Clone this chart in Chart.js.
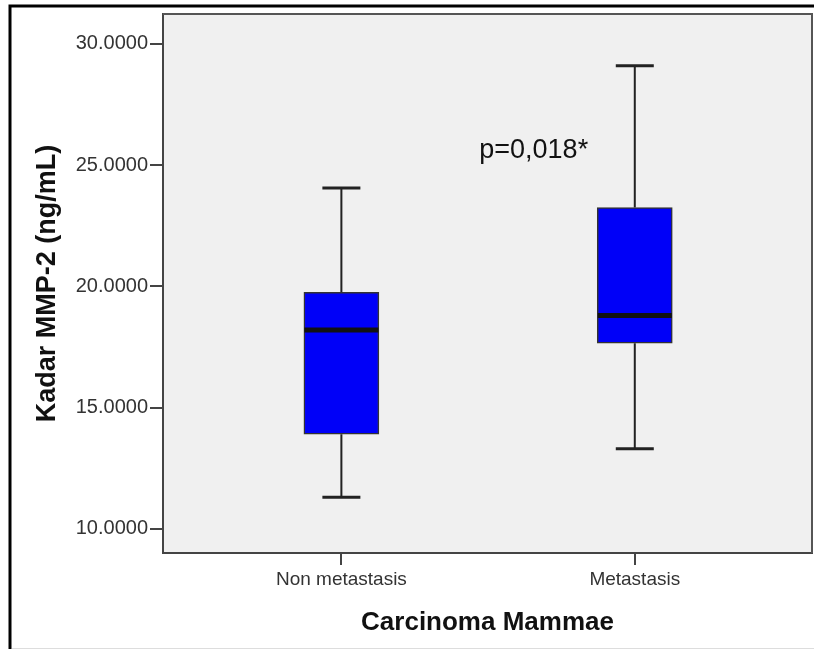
<!DOCTYPE html>
<html>
<head>
<meta charset="utf-8">
<script src="https://cdn.jsdelivr.net/npm/chart.js@4.4.0/dist/chart.umd.min.js"></script>
<style>
  body { margin: 0; background: #fff; }
  canvas { display: block; }
</style>
</head>
<body>
<canvas id="boxChart" width="814" height="649"></canvas>
<script>
const categories = ['Non metastasis', 'Metastasis'];
const positions = [1, 2];
const whiskerLow = [11.3, 13.3];
const q1 = [13.9, 17.65];
const median = [18.2, 18.8];
const q3 = [19.75, 23.25];
const whiskerHigh = [24.05, 29.1];
const yTicks = [10, 15, 20, 25, 30];
const pLabel = 'p=0,018*';

const FONT = '"Liberation Sans", Arial, sans-serif';

const boxPlugin = {
  id: 'boxParts',
  beforeDraw(chart) {
    const { ctx, chartArea: a } = chart;
    ctx.save();
    ctx.fillStyle = '#f0f0f0';
    ctx.fillRect(a.left, a.top, a.right - a.left, a.bottom - a.top);
    // outer frame
    ctx.strokeStyle = '#000';
    ctx.lineWidth = 3;
    ctx.beginPath();
    ctx.moveTo(10, 649);
    ctx.lineTo(10, 6);
    ctx.lineTo(814, 6);
    ctx.stroke();
    ctx.strokeStyle = '#ddd';
    ctx.lineWidth = 1;
    ctx.beginPath();
    ctx.moveTo(12, 648.5);
    ctx.lineTo(814, 648.5);
    ctx.stroke();
    ctx.restore();
  },
  beforeDatasetsDraw(chart) {
    const { ctx, scales: { x, y } } = chart;
    ctx.save();
    ctx.strokeStyle = '#222';
    positions.forEach((p, i) => {
      const cx = x.getPixelForValue(p);
      ctx.lineWidth = 2;
      ctx.beginPath();
      ctx.moveTo(cx, y.getPixelForValue(whiskerLow[i]));
      ctx.lineTo(cx, y.getPixelForValue(q1[i]));
      ctx.moveTo(cx, y.getPixelForValue(q3[i]));
      ctx.lineTo(cx, y.getPixelForValue(whiskerHigh[i]));
      ctx.stroke();
      ctx.lineWidth = 3;
      ctx.beginPath();
      [whiskerLow[i], whiskerHigh[i]].forEach(v => {
        const py = y.getPixelForValue(v);
        ctx.moveTo(cx - 19, py);
        ctx.lineTo(cx + 19, py);
      });
      ctx.stroke();
    });
    ctx.restore();
  },
  afterDatasetsDraw(chart) {
    const { ctx, chartArea: a, scales: { x, y } } = chart;
    ctx.save();
    ctx.strokeStyle = '#111';
    ctx.lineWidth = 5;
    positions.forEach((p, i) => {
      const cx = x.getPixelForValue(p);
      const py = y.getPixelForValue(median[i]);
      ctx.beginPath();
      ctx.moveTo(cx - 37, py);
      ctx.lineTo(cx + 37, py);
      ctx.stroke();
    });
    // top and right plot border
    ctx.strokeStyle = '#555';
    ctx.lineWidth = 2;
    ctx.beginPath();
    ctx.moveTo(a.left, a.top);
    ctx.lineTo(a.right, a.top);
    ctx.lineTo(a.right, a.bottom);
    ctx.stroke();
    // p-value note
    ctx.fillStyle = '#111';
    ctx.font = '27px ' + FONT;
    ctx.textAlign = 'left';
    ctx.textBaseline = 'middle';
    ctx.fillText(pLabel, x.getPixelForValue(1.47), y.getPixelForValue(25.6));
    ctx.restore();
  }
};

new Chart(document.getElementById('boxChart'), {
  type: 'bar',
  data: {
    datasets: [{
      data: positions.map((p, i) => ({ x: p, y: [q1[i], q3[i]] })),
      backgroundColor: '#0000f8',
      borderColor: '#333',
      borderWidth: 1.5,
      borderSkipped: false,
      barThickness: 75
    }]
  },
  options: {
    responsive: false,
    animation: false,
    layout: { padding: { left: 0, top: 13, right: 2, bottom: 0 } },
    plugins: { legend: { display: false }, tooltip: { enabled: false } },
    scales: {
      x: {
        type: 'linear',
        offset: false,
        min: 0.392,
        max: 2.604,
        afterBuildTicks: s => { s.ticks = positions.map(v => ({ value: v })); },
        afterFit: s => { s.height = 96; },
        grid: { offset: false, drawOnChartArea: false, tickLength: 12, color: '#444', lineWidth: 2 },
        border: { display: true, color: '#444', width: 2 },
        ticks: {
          color: '#333',
          font: { family: FONT, size: 19 },
          padding: 3,
          callback: v => categories[positions.indexOf(v)]
        },
        title: {
          display: true,
          text: 'Carcinoma Mammae',
          color: '#111',
          font: { family: FONT, size: 26, weight: 'bold' },
          padding: { top: 0, bottom: 11 }
        }
      },
      y: {
        min: 9.0,
        max: 31.23,
        afterBuildTicks: s => { s.ticks = yTicks.map(v => ({ value: v })); },
        afterFit: s => { s.width = 163; },
        grid: { drawOnChartArea: false, tickLength: 13, color: '#444', lineWidth: 2 },
        border: { display: true, color: '#444', width: 2 },
        ticks: {
          color: '#333',
          font: { family: FONT, size: 20 },
          padding: 2,
          callback: v => v.toFixed(4)
        },
        title: {
          display: true,
          text: 'Kadar MMP-2 (ng/mL)',
          color: '#111',
          font: { family: FONT, size: 27, weight: 'bold' },
          padding: { top: 31, bottom: 0 }
        }
      }
    }
  },
  plugins: [boxPlugin]
});
</script>
</body>
</html>
